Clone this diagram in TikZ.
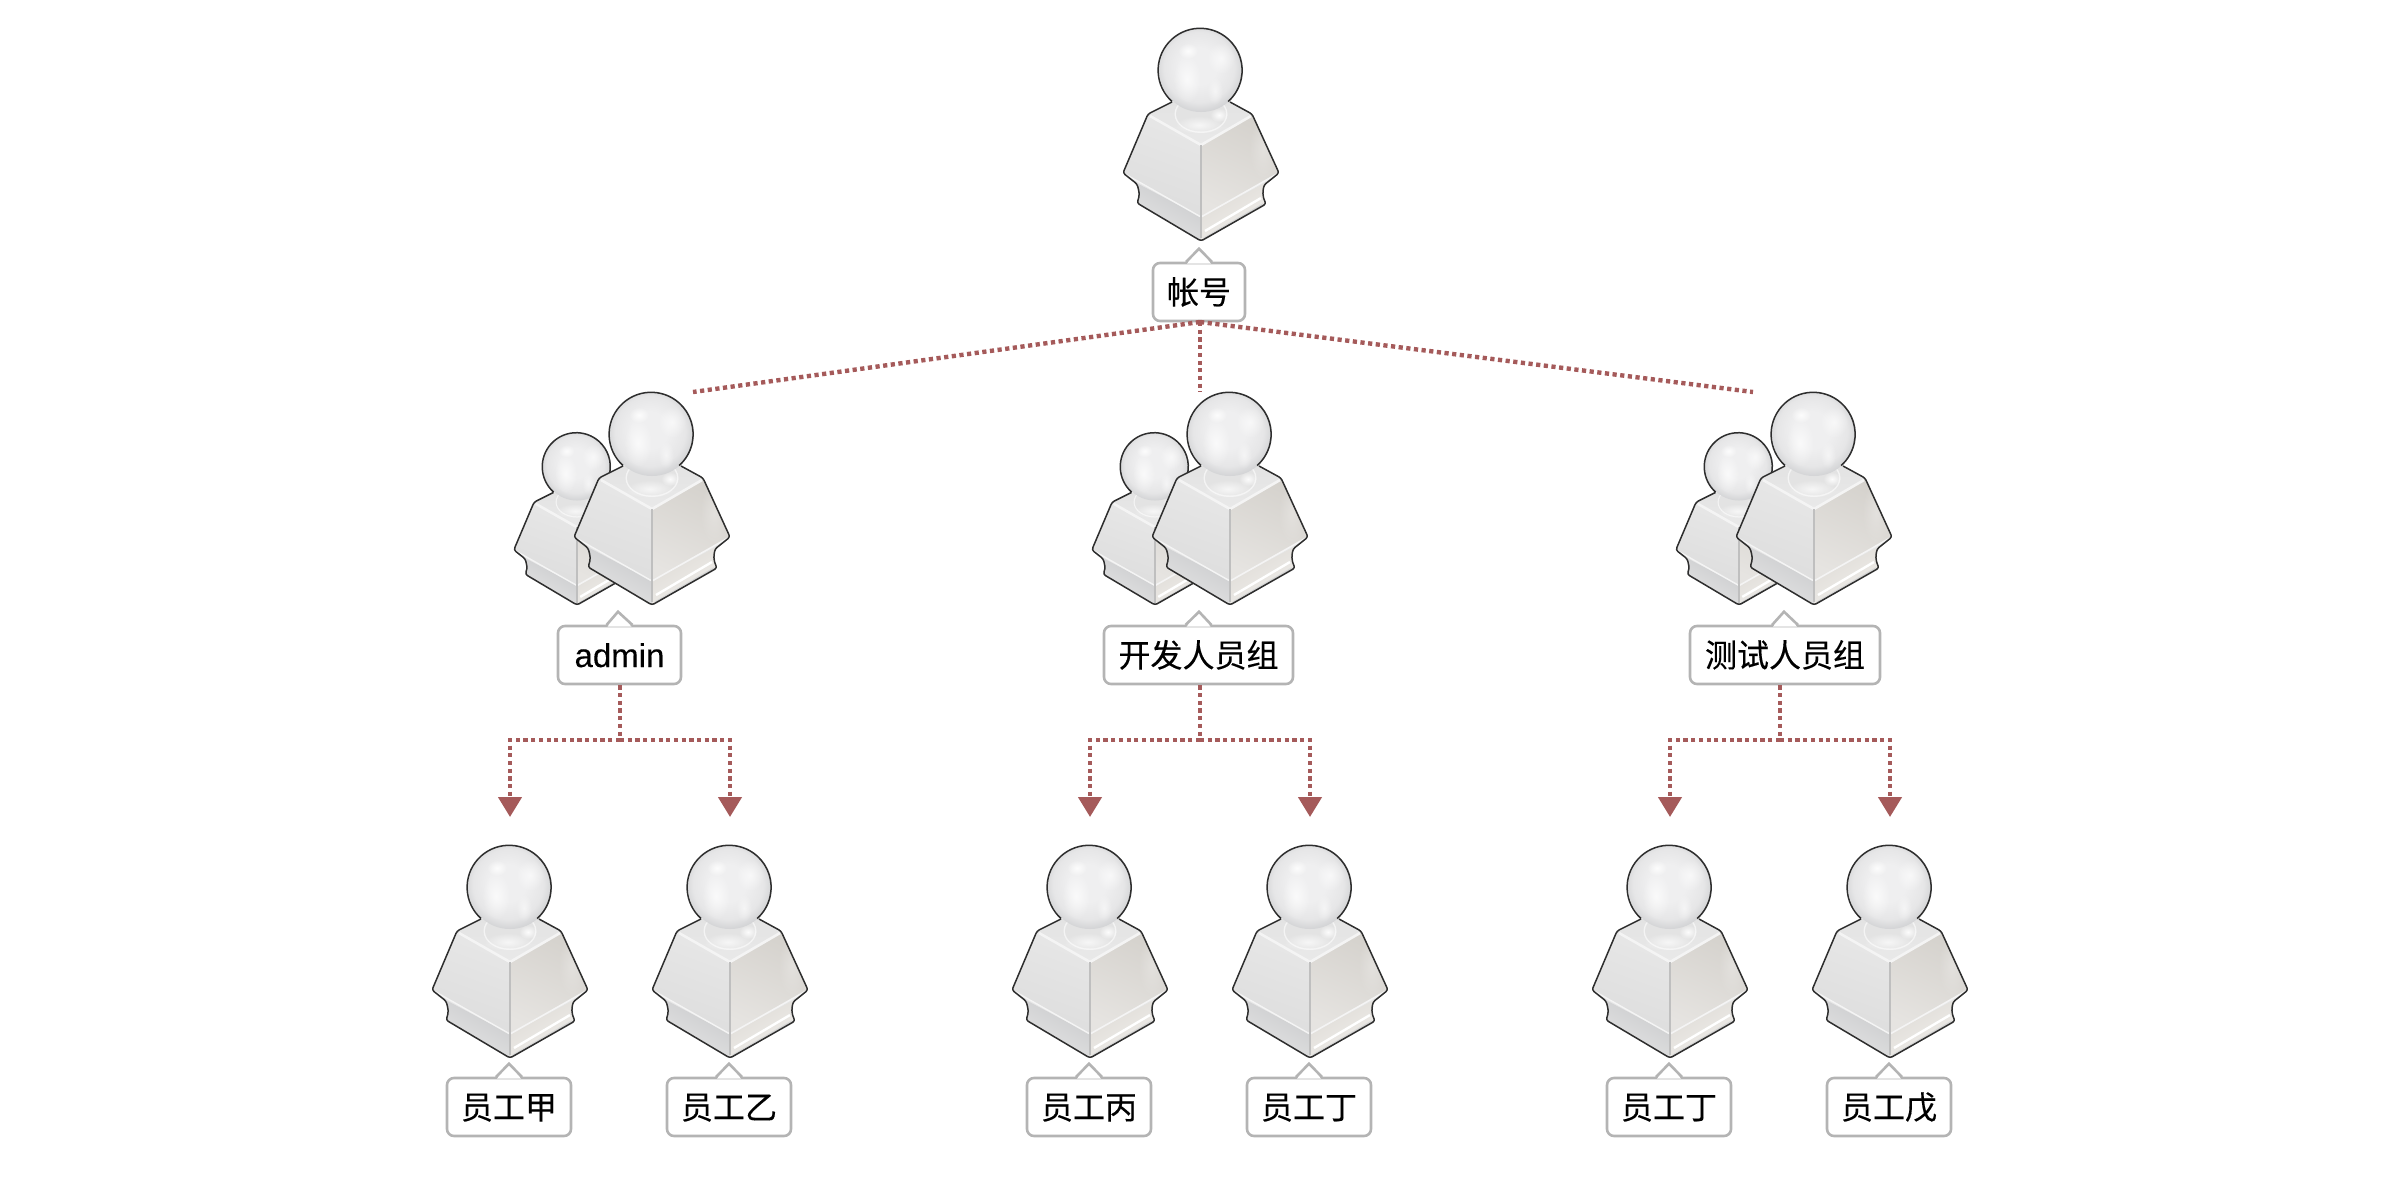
\documentclass[tikz,border=0pt]{standalone}
\usepackage{fontspec}
\setmainfont[FakeBold=.25]{Liberation Sans}
\newfontfamily\cjk[FakeBold=.3]{Noto Sans CJK SC}
\usetikzlibrary{arrows.meta,fadings}
\definecolor{linkred}{HTML}{A55A5A}
\definecolor{labline}{HTML}{B4B4B4}
\definecolor{inkline}{HTML}{2E2E2E}
\definecolor{headA}{HTML}{EFEFF0}
\definecolor{headB}{HTML}{E6E6E7}
\definecolor{headC}{HTML}{CDCED0}
\definecolor{faceL}{HTML}{E7E7E7}
\definecolor{faceLb}{HTML}{DDDDDD}
\definecolor{faceR}{HTML}{D5D2CD}
\definecolor{faceRb}{HTML}{E6E4E1}
\definecolor{bandL}{HTML}{C8C9CB}
\definecolor{bandLb}{HTML}{E6E6E6}
\definecolor{bandR}{HTML}{DDDAD5}
\definecolor{bandRb}{HTML}{F2F0ED}
\definecolor{topF}{HTML}{E3E3E3}
\definecolor{topFb}{HTML}{E9E9E9}
\definecolor{bevel}{HTML}{F4F4F4}
\tikzfading[name=softblob, inner color=transparent!0, outer color=transparent!100]
\pgfdeclareradialshading{headsh}{\pgfpoint{-2bp}{3bp}}{%
  color(0bp)=(headA); color(11bp)=(headA); color(21bp)=(headB); color(28bp)=(headC); color(50bp)=(headC)}
\tikzset{
  person/.pic={
    % base silhouette
    \fill[rounded corners=2.5,fill=bandLb]
      (-29,-139) -- (-53,-127) -- (-78,-68) -- (-64,-57)
      .. controls (-62,-50) and (-61,-46) .. (-64,-38)
      -- (0,0) -- (65,-37) .. controls (61,-46) and (62,-50) .. (63,-56)
      -- (78,-68) -- (51,-127) -- (29,-139) -- cycle;
    % lower band, left
    \shade[top color=bandL,bottom color=bandLb,shading angle=-30]
      (-72,-62) -- (-64,-57) .. controls (-62,-50) and (-61,-46) .. (-64,-38)
      -- (0,0) -- (0,-24) -- cycle;
    % lower band, right
    \shade[top color=bandR,bottom color=bandRb,shading angle=30]
      (72,-62) -- (63,-56) .. controls (62,-50) and (61,-46) .. (65,-37)
      -- (0,0) -- (0,-24) -- cycle;
    \draw[white,line width=2.4] (4,-10) -- (60,-43);
    \draw[black!16,line width=1.3] (3,-3) -- (62,-37);
    % left face
    \shade[rounded corners=2,top color=faceL,bottom color=faceLb,shading angle=-20]
      (-53,-126) -- (0,-97) -- (0,-23) -- (-77,-68) -- cycle;
    % right face
    \shade[rounded corners=2,top color=faceR,bottom color=faceRb,shading angle=-25]
      (51,-126) -- (0,-97) -- (0,-23) -- (77,-68) -- cycle;
    \begin{scope}
      \clip (51,-126) -- (0,-97) -- (0,-23) -- (77,-68) -- cycle;
      \fill[fill=faceRb,opacity=.8,path fading=softblob] (62,-92) ellipse [x radius=14,y radius=32];
    \end{scope}
    \draw[bevel,line width=1.6] (0,-24) -- (76,-67);
    \draw[bevel,line width=1.4] (0,-24) -- (-76,-67);
    % top face
    \shade[top color=topF,bottom color=topFb,rounded corners=1.5]
      (-29,-139) -- (-53,-127) -- (0,-97) -- (51,-127) -- (29,-139) -- cycle;
    \draw[bevel,line width=2.6] (-51,-125) -- (0,-96) -- (50,-125);
    % centre edge
    \draw[black!25,line width=1.6] (0,-96) -- (0,-3);
    % neck
    \fill[fill=bevel] (0,-127) ellipse [x radius=26.5,y radius=19];
    \fill[fill=black!11] (0,-127) ellipse [x radius=25,y radius=17.5];
    \fill[white,opacity=.9,path fading=softblob] (18,-126) ellipse [x radius=9,y radius=7];
    \fill[white,opacity=.7,path fading=softblob] (-2,-116) ellipse [x radius=24,y radius=9];
    % head
    \shade[shading=headsh] (0,-171) circle [radius=42];
    \fill[white,opacity=.85,path fading=softblob] (-13,-190) ellipse [x radius=10,y radius=8];
    \fill[white,opacity=.7,path fading=softblob] (-14,-162) ellipse [x radius=14,y radius=24];
    \fill[white,opacity=.65,path fading=softblob] (20,-183) ellipse [x radius=14,y radius=16];
    \fill[white,opacity=.55,path fading=softblob] (14,-150) ellipse [x radius=8,y radius=14];
    % outlines
    \draw[inkline,line width=1.5,rounded corners=2.5,line join=round]
      (-29,-139) -- (-53,-127) -- (-78,-68) -- (-64,-57)
      .. controls (-62,-50) and (-61,-46) .. (-64,-38)
      -- (0,0) -- (65,-37) .. controls (61,-46) and (62,-50) .. (63,-56)
      -- (78,-68) -- (51,-127) -- (29,-139);
    \draw[inkline,line width=1.5] (-29,-139.5) arc[start angle=132,end angle=408,radius=42];
  },
  labbox/.style={draw=labline,fill=white,line width=2.6,rounded corners=7,
    minimum height=58,inner sep=0,text=black,font=\fontsize{32}{36}\selectfont,
    text height=24,text depth=0},
  notchline/.style={draw=labline,line width=2.6,line join=miter},
  link/.style={draw=linkred,line width=4.4,dash pattern=on 4.2pt off 3.5pt},
  arrowlink/.style={link,-{Triangle[width=23,length=20,fill=linkred,sep=0pt]}},
}
\newcommand{\labnotch}[2]{%
  \fill[white] ([xshift=-12,yshift=-2]#1.north) -- ([xshift=#2,yshift=13]#1.north) -- ([xshift=12,yshift=-2]#1.north) -- cycle;
  \draw[notchline] ([xshift=-13,yshift=-.3]#1.north) -- ([xshift=#2,yshift=13]#1.north) -- ([xshift=13,yshift=-.3]#1.north);
}
\begin{document}
\begin{tikzpicture}[x=1pt,y=-1pt]
\useasboundingbox (0,0) rectangle (2400,1194);
% icons
\pic at (1201,241) {person};
\pic[scale=.81] at (577,605) {person};
\pic at (652,605) {person};
\pic[scale=.81] at (1155,605) {person};
\pic at (1230,605) {person};
\pic[scale=.81] at (1739,605) {person};
\pic at (1814,605) {person};
\pic at (510,1058) {person};
\pic at (730,1058) {person};
\pic at (1090,1058) {person};
\pic at (1310,1058) {person};
\pic at (1670,1058) {person};
\pic at (1890,1058) {person};
% labels
\node[labbox,minimum width=92] (root) at (1199,292) {\cjk 帐号};
\node[labbox,minimum width=123,font=\fontsize{33}{36}\selectfont] (gA) at (619.5,655) {admin};
\node[labbox,minimum width=189] (gB) at (1198.5,655) {\cjk 开发人员组};
\node[labbox,minimum width=190] (gC) at (1785,655) {\cjk 测试人员组};
\node[labbox,minimum width=124] (a1) at (509,1107) {\cjk 员工甲};
\node[labbox,minimum width=124] (a2) at (729,1107) {\cjk 员工乙};
\node[labbox,minimum width=124] (b1) at (1089,1107) {\cjk 员工丙};
\node[labbox,minimum width=124] (b2) at (1309,1107) {\cjk 员工丁};
\node[labbox,minimum width=124] (c1) at (1669,1107) {\cjk 员工丁};
\node[labbox,minimum width=124] (c2) at (1889,1107) {\cjk 员工戊};
\labnotch{root}{0}
\labnotch{gA}{-1.5}
\labnotch{gB}{.5}
\labnotch{gC}{-1}
\labnotch{a1}{0}
\labnotch{a2}{0}
\labnotch{b1}{0}
\labnotch{b2}{0}
\labnotch{c1}{0}
\labnotch{c2}{0}
% connector ends
\coordinate (rootfoot) at (1200,322);
\coordinate (endA) at (693,392);
\coordinate (endB) at (1200,392);
\coordinate (endC) at (1753,392);
\coordinate (teeA) at (620,740);
\coordinate (teeB) at (1200,740);
\coordinate (teeC) at (1780,740);
\coordinate (tipA1) at (510,817);
\coordinate (tipA2) at (730,817);
\coordinate (tipB1) at (1090,817);
\coordinate (tipB2) at (1310,817);
\coordinate (tipC1) at (1670,817);
\coordinate (tipC2) at (1890,817);
% connectors
\draw[link] (rootfoot) -- (endA);
\draw[link] (rootfoot) -- (endB);
\draw[link] (rootfoot) -- (endC);
\draw[link] (teeA |- gA.south) -- (teeA);
\draw[link] (teeB |- gB.south) -- (teeB);
\draw[link] (teeC |- gC.south) -- (teeC);
\draw[arrowlink] (teeA) -| (tipA1);
\draw[arrowlink] (teeA) -| (tipA2);
\draw[arrowlink] (teeB) -| (tipB1);
\draw[arrowlink] (teeB) -| (tipB2);
\draw[arrowlink] (teeC) -| (tipC1);
\draw[arrowlink] (teeC) -| (tipC2);
\end{tikzpicture}
\end{document}
